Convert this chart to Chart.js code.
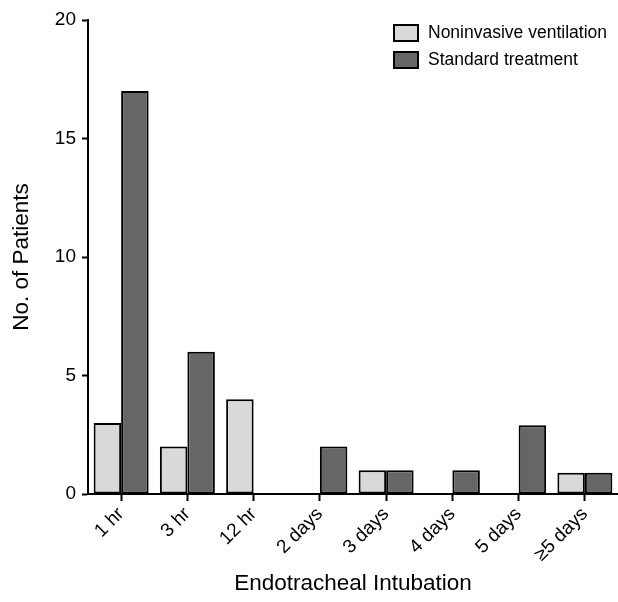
<!DOCTYPE html>
<html>
<head>
<meta charset="utf-8">
<script src="https://cdn.jsdelivr.net/npm/chart.js@4.4.0/dist/chart.umd.min.js"></script>
<style>
  html, body { margin: 0; padding: 0; background: #fff; }
  #wrap { position: relative; width: 618px; height: 602px; }
  canvas { display: block; }
  #legend { position: absolute; left: 393px; top: 19px; font-family: "Liberation Sans", Arial, sans-serif; font-size: 17.5px; color: #000; }
  .item { display: flex; align-items: center; height: 27px; }
  .box { width: 22px; height: 14px; border: 2px solid #000; margin-right: 9px; box-sizing: content-box; }
</style>
</head>
<body>
<div id="wrap">
  <canvas id="c" width="618" height="602"></canvas>
  <div id="legend"></div>
</div>
<script>
const categories = ["1 hr", "3 hr", "12 hr", "2 days", "3 days", "4 days", "5 days", "\u22655 days"];
const seriesNames = ["Noninvasive ventilation", "Standard treatment"];
const nivValues = [3, 2, 4, 0, 1, 0, 0, 0.9];
const stdValues = [17, 6, 0, 2, 1, 1, 2.9, 0.9];
const yTicks = [0, 5, 10, 15, 20];
const colors = ["#d9d9d9", "#666666"];

const font = "'Liberation Sans', Arial, sans-serif";

const legendEl = document.getElementById('legend');
seriesNames.forEach((n, i) => {
  const d = document.createElement('div');
  d.className = 'item';
  d.innerHTML = '<span class="box" style="background:' + colors[i] + '"></span><span>' + n + '</span>';
  legendEl.appendChild(d);
});

new Chart(document.getElementById('c'), {
  type: 'bar',
  data: {
    labels: categories,
    datasets: [
      { label: seriesNames[0], data: nivValues, backgroundColor: colors[0], borderColor: '#000', borderWidth: 2, borderSkipped: false, categoryPercentage: 0.83, barPercentage: 1.0 },
      { label: seriesNames[1], data: stdValues, backgroundColor: colors[1], borderColor: '#000', borderWidth: 2, borderSkipped: false, categoryPercentage: 0.83, barPercentage: 1.0 }
    ]
  },
  options: {
    responsive: false,
    animation: false,
    devicePixelRatio: 1,
    layout: { padding: { top: 20, right: 0, bottom: 0, left: 0 } },
    plugins: { legend: { display: false }, tooltip: { enabled: false } },
    scales: {
      x: {
        grid: { display: true, drawOnChartArea: false, drawTicks: true, tickLength: 7, tickColor: '#000', tickWidth: 2, offset: false },
        border: { display: true, color: '#000', width: 2 },
        ticks: { color: '#000', font: { family: font, size: 19 }, maxRotation: 45, minRotation: 45, padding: 2 },
        title: { display: true, text: 'Endotracheal Intubation', color: '#000', font: { family: font, size: 22.5 }, padding: 5 },
        afterFit: s => { s.height = 108; }
      },
      y: {
        min: 0, max: 20,
        afterBuildTicks: s => { s.ticks = yTicks.map(v => ({ value: v })); },
        grid: { display: true, drawOnChartArea: false, drawTicks: true, tickLength: 6, tickColor: '#000', tickWidth: 2 },
        border: { display: true, color: '#000', width: 2 },
        ticks: { color: '#000', font: { family: font, size: 19 }, padding: 6 },
        title: { display: true, text: 'No. of Patients', color: '#000', font: { family: font, size: 22.5 }, padding: 8 },
        afterFit: s => { s.width = 88; }
      }
    }
  }
});
</script>
</body>
</html>
